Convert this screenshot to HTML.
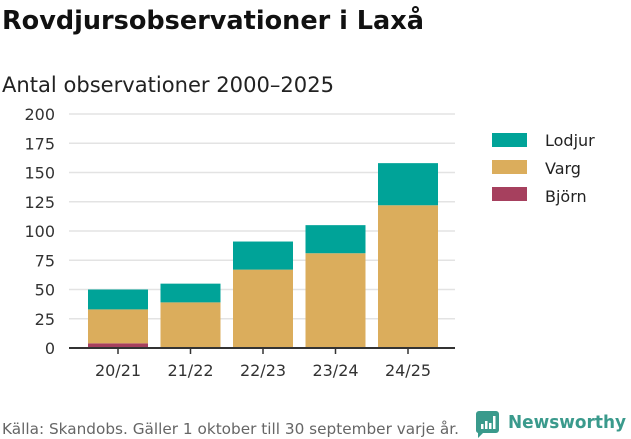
<!DOCTYPE html>
<html><head><meta charset="utf-8"><style>
body{margin:0;width:631px;height:439px;background:#fff;font-family:"DejaVu Sans","Liberation Sans",sans-serif;overflow:hidden}
</style></head><body>
<svg width="631" height="439" style="position:absolute;left:0;top:0">
<text x="2" y="29" font-size="25.5" font-weight="bold" fill="#111" textLength="422" lengthAdjust="spacingAndGlyphs">Rovdjursobservationer i Laxå</text>
<text x="2" y="92" font-size="21" fill="#222" textLength="332" lengthAdjust="spacingAndGlyphs">Antal observationer 2000–2025</text>
<g id="grid"></g><g id="bars"></g><g id="axes"></g>
<g>
<rect x="492" y="133" width="35" height="14" fill="#00a398"/>
<text x="545" y="146" font-size="16" fill="#222">Lodjur</text>
<rect x="492" y="160" width="35" height="14" fill="#dbad5c"/>
<text x="545" y="174" font-size="16" fill="#222">Varg</text>
<rect x="492" y="187" width="35" height="14" fill="#a6405e"/>
<text x="545" y="202" font-size="16" fill="#222">Björn</text>
</g>
<text x="2" y="434" font-size="15" fill="#666" textLength="457" lengthAdjust="spacingAndGlyphs">Källa: Skandobs. Gäller 1 oktober till 30 september varje år.</text>
<g>
<path d="M476 411 h20 a3 3 0 0 1 3 3 v16 a3 3 0 0 1 -3 3 h-13 l-5 5 v-5 a3 3 0 0 1 -2 -3 v-16 a3 3 0 0 1 3 -3z" fill="#3a9a8c"/>
<rect x="481" y="424" width="2.5" height="5" fill="#fff"/><rect x="485" y="421" width="2.5" height="8" fill="#fff"/><rect x="489" y="423" width="2.5" height="6" fill="#fff"/><rect x="493" y="416" width="2.5" height="13" fill="#fff"/>
<text x="508" y="428" font-size="18" font-weight="bold" fill="#3a9a8c" textLength="118" lengthAdjust="spacingAndGlyphs">Newsworthy</text>
</g>
</svg>
<script>
const categories=["20/21","21/22","22/23","23/24","24/25"];
const bjorn=[4,0,0,0,0];
const varg=[29,39,67,81,122];
const lodjur=[17,16,24,24,36];
const yTicks=[0,25,50,75,100,125,150,175,200];
const NS="http://www.w3.org/2000/svg";
const y0=348,y1=114,yMax=200,x0=69,x1=455;
const y=v=>y0-(v/yMax)*(y0-y1);
const step=72.5,bw=60,start=88;
const xb=i=>start+i*step;
function mk(t,a,p){const e=document.createElementNS(NS,t);for(const k in a)e.setAttribute(k,a[k]);p.appendChild(e);return e;}
const grid=document.getElementById('grid'),bars=document.getElementById('bars'),axes=document.getElementById('axes');
yTicks.forEach(t=>{
 if(t>0){const l=mk('line',{x1:x0,x2:x1,y1:y(t),y2:y(t),stroke:'#e3e3e3','stroke-width':1.5},grid);
 
 }
 const tx=mk('text',{x:55,y:y(t)+6,'font-size':16,fill:'#333','text-anchor':'end'},axes);tx.textContent=t;
 
 
});
const series=[["bjorn",bjorn,"#a6405e"],["varg",varg,"#dbad5c"],["lodjur",lodjur,"#00a398"]];
categories.forEach((c,i)=>{
 let acc=0;
 series.forEach(([n,arr,col])=>{
  const v=arr[i];if(v>0){const r=mk('rect',{x:xb(i),y:y(acc+v),width:bw,height:y(acc)-y(acc+v),fill:col},bars);
  
  }
  acc+=v;
 });
 const cx=xb(i)+bw/2;
 mk('line',{x1:cx,x2:cx,y1:y0,y2:y0+6,stroke:'#333','stroke-width':1.5},axes);
 const tx=mk('text',{x:cx,y:y0+28,'font-size':16,fill:'#333','text-anchor':'middle'},axes);tx.textContent=c;
 
 
});
const ax=mk('line',{x1:x0,x2:x1,y1:y0,y2:y0,stroke:'#333','stroke-width':2},axes);


</script>
</body></html>
